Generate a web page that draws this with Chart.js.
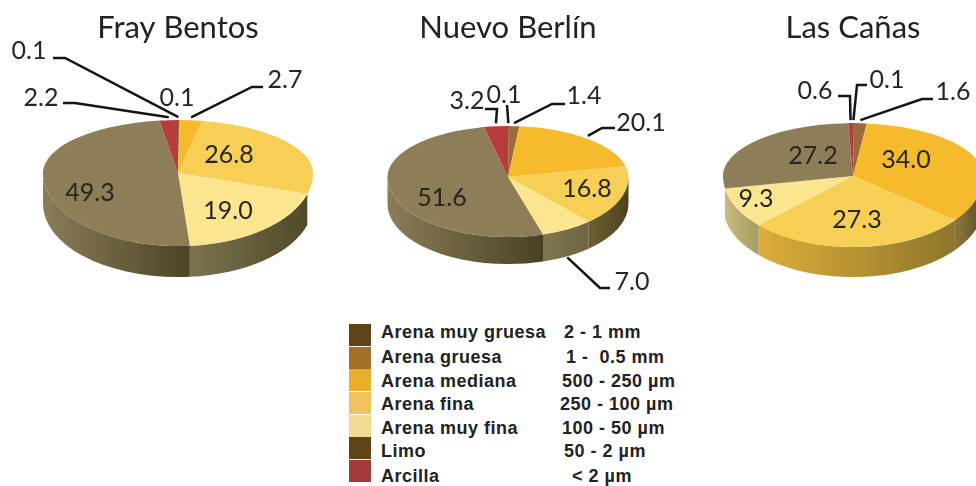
<!DOCTYPE html>
<html>
<head>
<meta charset="utf-8">
<script src="https://cdn.jsdelivr.net/npm/chart.js@4"></script>
<style>
html,body{margin:0;padding:0;background:#fff;width:976px;height:486px;overflow:hidden}
canvas{position:absolute;top:0}
.sw{position:absolute;left:349px;width:22px;height:22px}
.lg{position:absolute;font:bold 18px "Liberation Sans",Arial,sans-serif;letter-spacing:.5px;color:#222;white-space:pre;line-height:18px}
</style>
</head>
<body>
<canvas id="c1" width="356" height="300" style="left:0"></canvas>
<canvas id="c2" width="360" height="308" style="left:328px"></canvas>
<canvas id="c3" width="280" height="306" style="left:713px"></canvas>
<div id="legend"></div>
<script>
const categories = ['Arena muy gruesa','Arena gruesa','Arena mediana','Arena fina','Arena muy fina','Limo','Arcilla'];
const sizeRanges = ['2 - 1 mm','1 -  0.5 mm','500 - 250 µm','250 - 100 µm','100 - 50 µm','50 - 2 µm','< 2 µm'];
const sites = ['Fray Bentos','Nuevo Berlín','Las Cañas'];
const frayBentos = [0.1, 0.1, 2.7, 26.8, 19.0, 49.3, 2.2];
const nuevoBerlin = [0.1, 1.4, 20.1, 16.8, 7.0, 51.6, 3.2];
const lasCanas = [0.1, 1.6, 34.0, 27.3, 9.3, 27.2, 0.6];

const topColors = ['#5c3f14','#9a6c3c','#f6bb2c','#f8cf55','#fbe68f','#8d7e57','#b83c3c'];
const legendColors = ['#5f4316','#a66f26','#e9ae2a','#f0c35c','#f2da90','#5f4316','#a33a3a'];

/* layout of the annotations, in page pixels: text centre and optional elbow of the leader */
const layouts = [
  { left:0, R:135, above:53, below:73, depth:31,
    side:[null,null,null,null,['#7c7350','#4f4a28'],['#8a7d58','#4d4426'],null],
    labels:[
      {x:29,y:51,elbow:[[53,58],[65,58]]},
      {x:177,y:98},
      {x:285,y:80,elbow:[[263,87],[252,87]]},
      {x:229,y:155},
      {x:228,y:211},
      {x:90,y:193},
      {x:41,y:98,elbow:[[63,103],[75,103]]}
    ]},
  { left:328, R:120.5, above:51, below:60, depth:27,
    side:[null,null,null,['#6d6030','#4d4220'],['#7f7550','#6f6540'],['#8a7d58','#4a4124'],null],
    labels:[
      {x:504,y:95,elbow:[[507,105]]},
      {x:584,y:96,elbow:[[565,104],[552,104]]},
      {x:641,y:123,elbow:[[615,128],[602,128]]},
      {x:587,y:189},
      {x:632,y:282,elbow:[[610,288],[600,288]]},
      {x:442,y:198},
      {x:467,y:101,elbow:[[485,109],[497,109]]}
    ]},
  { left:713, R:130, above:53, below:71, depth:30,
    side:[null,null,['#8a7a3a','#5c4f28'],['#dcae38','#8f762c'],['#c9bc80','#a89a60'],null,null],
    labels:[
      {x:887,y:80,elbow:[[867,85],[857,85]]},
      {x:953,y:92,elbow:[[933,99],[922,99]]},
      {x:906,y:160},
      {x:857,y:220},
      {x:756,y:199},
      {x:813,y:156},
      {x:815,y:91,elbow:[[838,96],[850,96]]}
    ]}
];

function pseudo3d(cfg, values) {
  return {
    id:'pseudo3d',
    beforeDatasetsDraw(chart) {
      const ctx = chart.ctx, arcs = chart.getDatasetMeta(0).data;
      const cx = arcs[0].x, cy = arcs[0].y, R = cfg.R;
      // side wall, following each slice's angles on the lower rim
      arcs.forEach((arc, i) => {
        const colors = cfg.side[i];
        if (!colors) return;
        const s = Math.max(arc.startAngle, 0), e = Math.min(arc.endAngle, Math.PI);
        if (e <= s) return;
        const xa = cx + R * Math.cos(e), xb = cx + R * Math.cos(s);
        const g = ctx.createLinearGradient(xa, 0, xb, 0);
        g.addColorStop(0, colors[0]); g.addColorStop(1, colors[1]);
        ctx.save();
        ctx.beginPath();
        ctx.ellipse(cx, cy, R, cfg.below, 0, s, e);
        ctx.ellipse(cx, cy + cfg.depth, R, cfg.below, 0, e, s, true);
        ctx.closePath();
        ctx.fillStyle = g; ctx.fill();
        ctx.restore();
      });
      // top face: far half and near half have different foreshortening
      [[-1, cfg.above],[1, cfg.below]].forEach(([dir, h]) => {
        ctx.save();
        ctx.beginPath();
        if (dir < 0) ctx.rect(0, 0, chart.width, cy + 0.5);
        else ctx.rect(0, cy - 0.5, chart.width, chart.height);
        ctx.clip();
        ctx.translate(cx, cy); ctx.scale(1, h / R); ctx.translate(-cx, -cy);
        arcs.forEach(a => a.draw(ctx));
        ctx.restore();
      });
      return false;
    },
    afterDraw(chart) {
      const ctx = chart.ctx, arcs = chart.getDatasetMeta(0).data;
      const cx = arcs[0].x, cy = arcs[0].y, R = cfg.R;
      ctx.save();
      ctx.strokeStyle = '#15150f'; ctx.lineWidth = 2.5; ctx.lineJoin = 'miter';
      cfg.labels.forEach((lb, i) => {
        if (lb.elbow) {
          const mid = (arcs[i].startAngle + arcs[i].endAngle) / 2;
          const sn = Math.sin(mid);
          const ax = cx + R * Math.cos(mid);
          const ay = sn < 0 ? cy + cfg.above * sn - 3 : cy + cfg.below * sn + cfg.depth + 1;
          ctx.beginPath();
          lb.elbow.forEach((p, k) => {
            const px = p[0] - cfg.left;
            k ? ctx.lineTo(px, p[1]) : ctx.moveTo(px, p[1]);
          });
          ctx.lineTo(ax, ay);
          ctx.stroke();
        }
      });
      ctx.fillStyle = '#26261f';
      ctx.font = '25px Lato';
      ctx.textAlign = 'center'; ctx.textBaseline = 'middle';
      cfg.labels.forEach((lb, i) => ctx.fillText(values[i].toFixed(1), lb.x - cfg.left, lb.y));
      ctx.restore();
    }
  };
}

[frayBentos, nuevoBerlin, lasCanas].forEach((values, n) => {
  new Chart(document.getElementById('c' + (n + 1)), {
    type:'pie',
    data:{ labels:categories, datasets:[{ data:values, backgroundColor:topColors, borderWidth:0, radius:layouts[n].R }] },
    options:{
      responsive:false, maintainAspectRatio:false, animation:false,
      layout:{padding:0},
      plugins:{
        legend:{display:false}, tooltip:{enabled:false},
        title:{display:true, text:sites[n], color:'#222', font:{family:'Lato', size:31, weight:'normal'}, padding:{top:9,bottom:0}}
      }
    },
    plugins:[pseudo3d(layouts[n], values)]
  });
});

const legend = document.getElementById('legend');
const swatchTops = [324,347,369,392,415,437,460];
const nameTops = [323,348,372,395,419,442,467];
const rangeLefts = [564,566,562,560,562,564,572];
categories.forEach((name, i) => {
  const sw = document.createElement('div');
  sw.className = 'sw'; sw.style.top = swatchTops[i] + 'px'; sw.style.background = legendColors[i];
  legend.appendChild(sw);
  const a = document.createElement('div');
  a.className = 'lg'; a.style.left = '381px'; a.style.top = nameTops[i] + 'px'; a.textContent = name;
  legend.appendChild(a);
  const b = document.createElement('div');
  b.className = 'lg'; b.style.left = rangeLefts[i] + 'px'; b.style.top = nameTops[i] + 'px'; b.textContent = sizeRanges[i];
  legend.appendChild(b);
});
</script>
</body>
</html>
